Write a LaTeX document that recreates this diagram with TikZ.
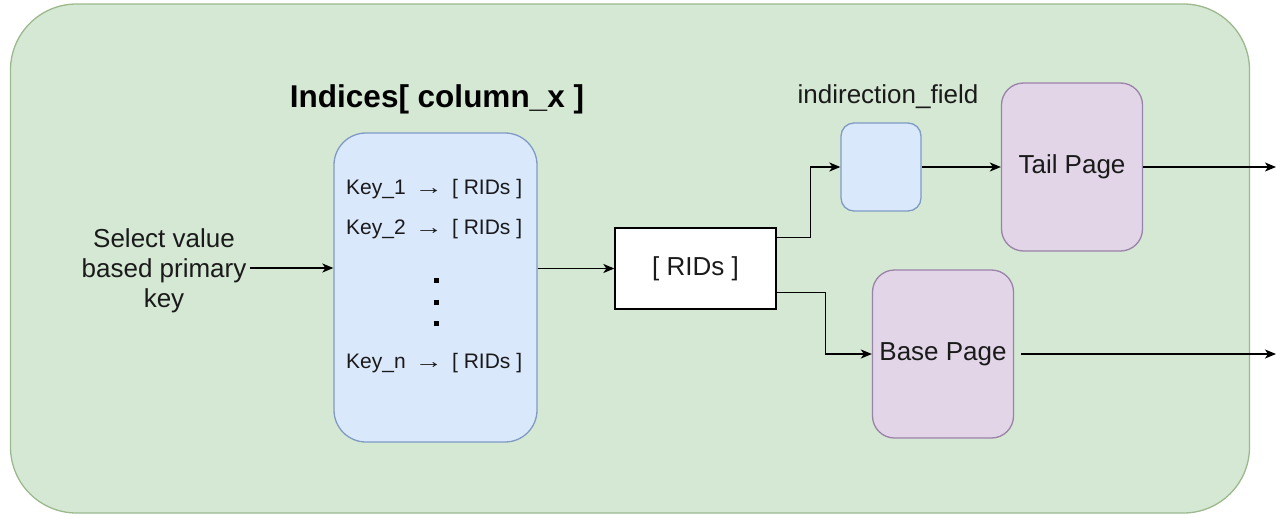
\documentclass[tikz,border=0pt]{standalone}
\usepackage{fontspec}
\usepackage{graphicx}
\setmainfont{Liberation Sans}
\usetikzlibrary{arrows.meta,calc}

\definecolor{grnfill}{HTML}{D5E8D4}
\definecolor{grnline}{HTML}{9CB98E}
\definecolor{blufill}{HTML}{DAE8FC}
\definecolor{bluline}{HTML}{7F9BC4}
\definecolor{purfill}{HTML}{E1D5E7}
\definecolor{purline}{HTML}{9B82A8}
\definecolor{txt}{HTML}{1A1A1A}

\newcommand{\keyarrow}{\hspace{9pt}\scalebox{1.35}[1]{→}\hspace{9pt}}

\tikzset{
  arr/.style={line width=1.5pt, draw=black, -{Stealth[length=11pt,width=9pt,inset=3pt]}},
  bluebox/.style={draw=bluline, fill=blufill, line width=1.3pt, inner sep=0pt},
  pagebox/.style={draw=purline, fill=purfill, line width=1.3pt, inner sep=0pt,
    rounded corners=22pt, minimum width=141pt, minimum height=168pt,
    font=\fontsize{26}{30}\selectfont, text=txt},
  lbl/.style={font=\fontsize{26}{30}\selectfont, text=txt, inner sep=0pt},
  keyline/.style={font=\fontsize{21}{24}\selectfont, text=txt, inner sep=0pt, anchor=west},
  dotmark/.style={fill=black, draw=none, inner sep=0pt, minimum size=5pt},
}

\begin{document}
\begin{tikzpicture}[x=1pt,y=-1pt]
  \useasboundingbox (0,0) rectangle (1276,517);

  % outer container
  \node (frame) [draw=grnline, fill=grnfill, line width=1.3pt, rounded corners=66pt,
    minimum width=1239pt, minimum height=509pt, inner sep=0pt] at (630,258.5) {};

  % index structure
  \node (title) [font=\bfseries\fontsize{31.5}{36}\selectfont, text=black, inner sep=0pt]
    at (437,99) {Indices[ column\_x ]};
  \node (idx) [bluebox, rounded corners=32pt, minimum width=203pt, minimum height=309pt]
    at (435.5,287.5) {};
  \node (k1) [keyline] at (346,189) {Key\_1\keyarrow[ RIDs ]};
  \node (k2) [keyline] at (346,229) {Key\_2\keyarrow[ RIDs ]};
  \node (d1) [dotmark] at (436,280) {};
  \node (d2) [dotmark] at (436,302) {};
  \node (d3) [dotmark] at (436,323) {};
  \node (kn) [keyline] at (346,363) {Key\_n\keyarrow[ RIDs ]};

  % query input
  \node (sel) [lbl, align=center] at (164,271)
    {Select value\\based primary\\key};

  % result list
  \node (rids) [draw=black, fill=white, line width=1.3pt, minimum width=161pt,
    minimum height=81pt, lbl] at (695.5,268.5) {[ RIDs ]};

  % indirection and pages
  \node (ind) [bluebox, rounded corners=13pt, minimum width=80pt, minimum height=88pt]
    at (881,167) {};
  \node (indlbl) [lbl] at (888,97) {indirection\_field};
  \node (tail) [pagebox] at (1072,167) {Tail Page};
  \node (base) [pagebox] at (943,354) {Base Page};

  \coordinate (tailout) at (1276,170);
  \coordinate (baseout) at (1276,357);

  % connectors
  \draw[arr] ([xshift=3pt]sel.east |- 0,268) -- (idx.west |- 0,268);
  \draw[arr] (rids.west -| idx.east) -- (rids.west);
  \draw[arr] ([yshift=31pt]rids.east) -- ++(34pt,0) |- (ind.west);
  \draw[arr] ([yshift=-24pt]rids.east) -- ++(49pt,0) |- (base.west);
  \draw[arr] (ind.east) -- (tail.west);
  \draw[arr] (tail.east) -- (tail.east -| tailout);
  \draw[arr] ([xshift=7pt]base.east) -- (base.east -| baseout);
\end{tikzpicture}
\end{document}
